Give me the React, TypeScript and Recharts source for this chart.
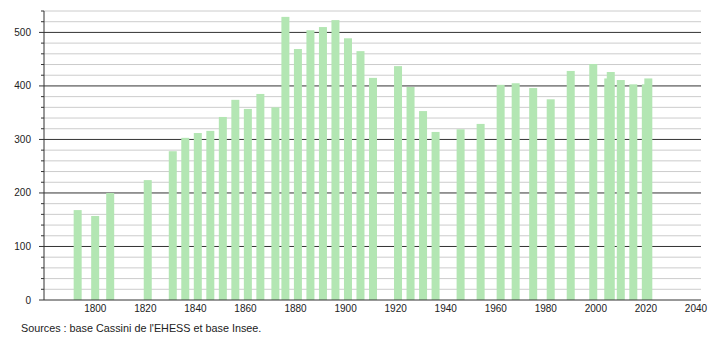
import React from 'react';
import { BarChart, Bar, XAxis, YAxis, CartesianGrid } from 'recharts';

const years = [
  1793, 1800, 1806, 1821, 1831, 1836, 1841, 1846, 1851, 1856, 1861, 1866, 1872,
  1876, 1881, 1886, 1891, 1896, 1901, 1906, 1911, 1921, 1926, 1931, 1936, 1946,
  1954, 1962, 1968, 1975, 1982, 1990, 1999, 2005, 2006, 2010, 2015, 2020, 2021,
];
const population = [
  168, 157, 200, 224, 278, 303, 312, 316, 342, 374, 357, 385, 360,
  529, 469, 504, 510, 523, 489, 465, 415, 437, 398, 353, 314, 319,
  329, 402, 405, 396, 375, 428, 441, 414, 426, 411, 403, 403, 414,
];

const xTicks = [1800, 1820, 1840, 1860, 1880, 1900, 1920, 1940, 1960, 1980, 2000, 2020, 2040];
const yTicks = [
  0, 20, 40, 60, 80, 100, 120, 140, 160, 180, 200, 220, 240, 260, 280, 300,
  320, 340, 360, 380, 400, 420, 440, 460, 480, 500, 520, 540,
];
const majorLines = [100, 200, 300, 400, 500];
const minorLines = [
  20, 40, 60, 80, 120, 140, 160, 180, 220, 240, 260, 280, 320, 340, 360, 380,
  420, 440, 460, 480, 520, 540,
];

const SOURCE = "Sources : base Cassini de l'EHESS et base Insee.";

const data = years.map((year, i) => ({ year, pop: population[i] }));

const BAR_W = 8;

// bars on a numeric axis: recenter on the year and use a fixed width
function BarShape(props: any) {
  const { x, y, width, height } = props;
  if (height == null || height <= 0) return null;
  const cx = x + width / 2;
  return <rect x={cx - BAR_W / 2} y={y} width={BAR_W} height={height} fill="#b3e6b3" />;
}

function YTick(props: any) {
  const { x, y, payload } = props;
  const major = payload.value % 100 === 0;
  return (
    <g>
      <line x1={x - (major ? 5 : 3)} x2={x} y1={y} y2={y} stroke="#333" />
      {major && (
        <text x={x - 13} y={y} dy={3.5} textAnchor="end" fontSize={10} fill="#222">
          {payload.value}
        </text>
      )}
    </g>
  );
}

export default function App() {
  return (
    <div
      style={{
        position: 'absolute',
        left: 0,
        top: 0,
        width: 710,
        height: 340,
        background: '#fff',
        fontFamily: '"Liberation Sans", Arial, sans-serif',
      }}
    >
      <BarChart width={710} height={340} data={data} margin={{ top: 11, right: 9, left: 0, bottom: 20 }}>
        <CartesianGrid vertical={false} horizontalValues={minorLines} stroke="#cccccc" />
        <CartesianGrid vertical={false} horizontalValues={majorLines} stroke="#333333" />
        <XAxis
          dataKey="year"
          type="number"
          domain={[1779.5, 2042]}
          allowDataOverflow
          ticks={xTicks}
          interval={0}
          height={20}
          tickLine={false}
          tickSize={0}
          tickMargin={5}
          axisLine={{ stroke: '#333' }}
          tick={{ fontSize: 10, fill: '#222' }}
        />
        <YAxis
          width={44}
          domain={[0, 540]}
          ticks={yTicks}
          interval={0}
          tickLine={false}
          tickSize={0}
          tickMargin={0}
          axisLine={{ stroke: '#333' }}
          tick={<YTick />}
        />
        <Bar dataKey="pop" barSize={BAR_W} shape={<BarShape />} isAnimationActive={false} />
      </BarChart>
      <div
        style={{
          position: 'absolute',
          left: 21,
          top: 322,
          fontSize: 10.8,
          lineHeight: '13px',
          color: '#222',
          whiteSpace: 'nowrap',
        }}
      >
        {SOURCE}
      </div>
    </div>
  );
}
